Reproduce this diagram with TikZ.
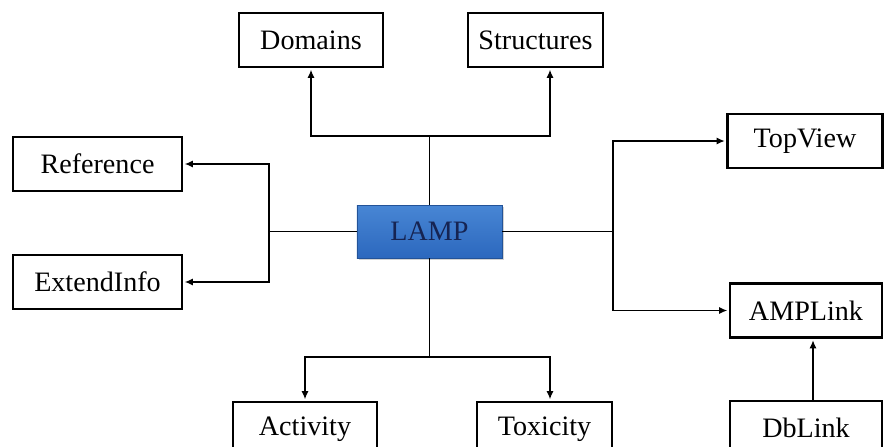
\documentclass[tikz,border=0pt]{standalone}
\usepackage{fontspec}
\setmainfont{Liberation Serif}
\usetikzlibrary{arrows.meta,shadows}

\definecolor{lampblue}{RGB}{72,134,212}
\definecolor{lampdark}{RGB}{44,104,190}
\definecolor{lamptext}{RGB}{22,36,82}

\begin{document}
\begin{tikzpicture}[
    x=0.03cm, y=-0.03cm,
    font=\fontsize{24}{28}\selectfont,
    box/.style = {rectangle, draw, line width=2.4pt, fill=white, minimum height=1.62cm, inner sep=0pt},
    core/.style = {rectangle, top color=lampblue, bottom color=lampdark, draw=lampdark!80!black, line width=0.4pt,
        minimum width=4.35cm, minimum height=1.59cm, text=lamptext,
        drop shadow={opacity=0.35, shadow xshift=2pt, shadow yshift=-2pt}},
    link/.style = {line width=1.2pt},
    arrow/.style = {link, -{Latex[length=7pt,width=6pt]}, shorten >=1.1pt}
]
    \clip (0,0) rectangle (886,447);
    \fill[white] (0,0) rectangle (886,447);

    \node[core] (lamp) at (429.5,231.5) {LAMP};

    \node[box, minimum width=4.32cm] (domains) at (311,40) {Domains};
    \node[box, minimum width=4.05cm] (structures) at (535.5,40) {Structures};
    \node[box, minimum width=5.07cm] (reference) at (97.5,164) {Reference};
    \node[box, minimum width=5.07cm] (extendinfo) at (97.5,282) {ExtendInfo};
    \node[box, minimum width=4.65cm] (topview) at (805,141) {TopView};
    \node[box, minimum width=4.56cm] (amplink) at (806,310.5) {AMPLink};
    \node[box, minimum width=4.56cm] (dblink) at (806,428) {DbLink};
    \node[box, minimum width=4.32cm] (activity) at (305,429) {Activity};
    \node[box, minimum width=4.05cm] (toxicity) at (544.5,429) {Toxicity};

    % junctions
    \coordinate (jup) at (429.5,136);
    \coordinate (jdown) at (429.5,357);
    \coordinate (jleft) at (269,231.5);
    \coordinate (jright) at (613,231.5);

    \draw[link] (lamp.north) -- (jup);
    \draw[arrow] (jup) -| (domains.south);
    \draw[arrow] (jup) -| ([xshift=0.435cm]structures.south);

    \draw[link] (lamp.west) -- (jleft);
    \draw[arrow] (jleft) |- (reference.east);
    \draw[arrow] (jleft) |- (extendinfo.east);

    \draw[link] (lamp.east) -- (jright);
    \draw[arrow] (jright) |- (topview.west);
    \draw[arrow] (jright) |- (amplink.west);

    \draw[link] (lamp.south) -- (jdown);
    \draw[arrow] (jdown) -| (activity.north);
    \draw[arrow] (jdown) -| ([xshift=0.165cm]toxicity.north);

    \draw[arrow] ([xshift=0.21cm]dblink.north) -- ([xshift=0.21cm]amplink.south);
\end{tikzpicture}
\end{document}
